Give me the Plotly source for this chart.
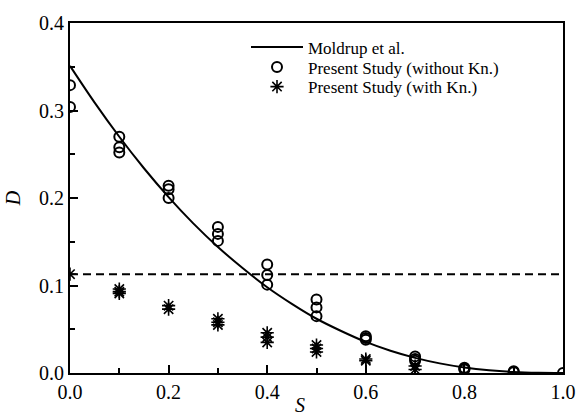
import plotly.graph_objects as go

# Moldrup et al. model curve
curve_s = [0.0, 0.05, 0.1, 0.15, 0.2, 0.25, 0.3, 0.35, 0.4, 0.45, 0.5,
           0.55, 0.6, 0.65, 0.7, 0.75, 0.8, 0.85, 0.9, 0.95, 1.0]
curve_d = [0.351, 0.309, 0.270, 0.234, 0.201, 0.171, 0.144, 0.120, 0.098, 0.079, 0.062,
           0.048, 0.0355, 0.0254, 0.0173, 0.011, 0.0063, 0.0031, 0.0011, 0.0002, 0.0]

# Present study without Knudsen
wo_s = [0.0, 0.0, 0.1, 0.1, 0.1, 0.2, 0.2, 0.2, 0.3, 0.3, 0.3, 0.4, 0.4, 0.4,
        0.5, 0.5, 0.5, 0.6, 0.6, 0.6, 0.7, 0.7, 0.7, 0.8, 0.8, 0.8, 0.9, 0.9, 1.0]
wo_d = [0.329, 0.304, 0.270, 0.258, 0.252, 0.214, 0.210, 0.200, 0.167, 0.159, 0.151,
        0.124, 0.112, 0.101, 0.084, 0.075, 0.065, 0.042, 0.040, 0.038, 0.019, 0.016, 0.014,
        0.006, 0.005, 0.004, 0.002, 0.001, 0.0]

# Present study with Knudsen
wk_s = [0.0, 0.1, 0.1, 0.1, 0.2, 0.2, 0.3, 0.3, 0.3, 0.4, 0.4, 0.4,
        0.5, 0.5, 0.5, 0.6, 0.6, 0.7, 0.7]
wk_d = [0.113, 0.096, 0.093, 0.091, 0.077, 0.073, 0.062, 0.058, 0.055, 0.046, 0.041, 0.035,
        0.032, 0.028, 0.024, 0.016, 0.014, 0.008, 0.004]

# Horizontal reference (dashed)
ref_s = [0.0, 1.0]
ref_d = [0.113, 0.113]

x_ticks = [0.0, 0.2, 0.4, 0.6, 0.8, 1.0]
y_ticks = [0.0, 0.1, 0.2, 0.3, 0.4]

FONT = "Liberation Serif"

fig = go.Figure()
fig.add_trace(go.Scatter(x=ref_s, y=ref_d, mode="lines", showlegend=False,
                         line=dict(color="black", width=2, dash="8px,5px")))
fig.add_trace(go.Scatter(x=curve_s, y=curve_d, mode="lines", name="Moldrup et al.",
                         legend="legend",
                         line=dict(color="black", width=2, shape="spline")))
fig.add_trace(go.Scatter(x=wo_s, y=wo_d, mode="markers", name="Present Study (without Kn.)",
                         legend="legend2",
                         marker=dict(symbol="circle-open", size=10, color="black",
                                     line=dict(width=2, color="black"))))
fig.add_trace(go.Scatter(x=wk_s, y=wk_d, mode="markers", name="Present Study (with Kn.)",
                         legend="legend3",
                         marker=dict(symbol="asterisk-open", size=11, color="black",
                                     line=dict(width=1.6, color="black"))))

leg_common = dict(x=0.357, xanchor="left", yanchor="middle",
                  bgcolor="rgba(0,0,0,0)", font=dict(size=17, family=FONT),
                  itemwidth=52, borderwidth=0)

fig.update_layout(
    width=588, height=416,
    margin=dict(l=70, r=15, t=18, b=43),
    paper_bgcolor="white", plot_bgcolor="white",
    font=dict(family=FONT, size=20, color="black"),
    legend=dict(y=0.930, **leg_common),
    legend2=dict(y=0.873, **leg_common),
    legend3=dict(y=0.817, **leg_common),
    annotations=[dict(text="<i>S</i>", x=0.467, y=-0.055, xref="paper", yref="paper",
                      xanchor="center", yanchor="top", showarrow=False,
                      font=dict(size=20, family=FONT))],
)
fig.update_xaxes(range=[0, 1.0], tickvals=x_ticks, ticktext=[f"{v:.1f}" for v in x_ticks],
                 ticks="inside", ticklen=8, tickwidth=1.5, tickcolor="black",
                 minor=dict(dtick=0.1, ticks="inside", ticklen=5, tickwidth=1.5, tickcolor="black", showgrid=False),
                 showline=True, linewidth=2, linecolor="black", mirror=True,
                 showgrid=False, zeroline=False)
fig.update_yaxes(range=[0, 0.4], tickvals=y_ticks, ticktext=[f"{v:.1f}" for v in y_ticks],
                 ticks="inside", ticklen=8, tickwidth=1.5, tickcolor="black",
                 minor=dict(dtick=0.05, ticks="inside", ticklen=5, tickwidth=1.5, tickcolor="black", showgrid=False),
                 showline=True, linewidth=2, linecolor="black", mirror=True,
                 showgrid=False, zeroline=False,
                 title=dict(text="<i>D</i>", standoff=13, font=dict(size=20, family=FONT)))

fig.write_html("out.html", config={"displayModeBar": False},
               post_script="document.body.style.margin='0';document.body.style.overflow='hidden';")
